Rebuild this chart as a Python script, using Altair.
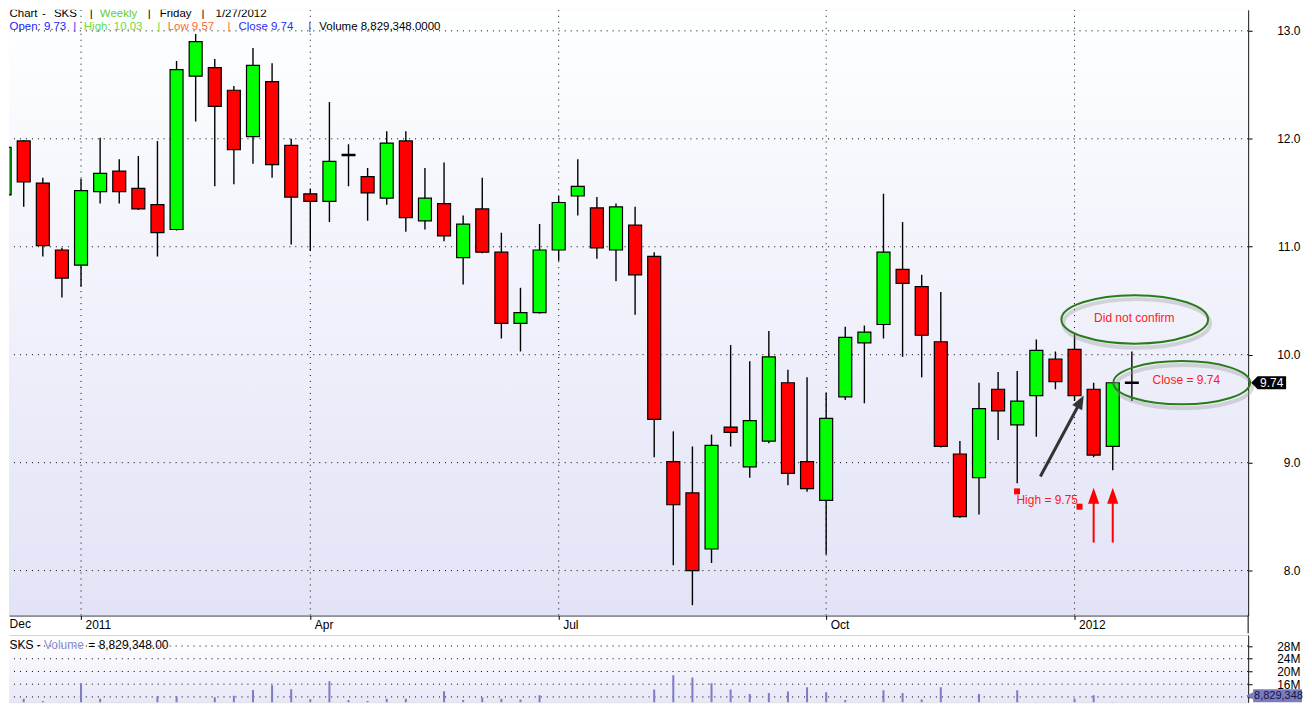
import altair as alt
import pandas as pd

# ------------------------------------------------------------------ data
dates = pd.date_range("2010-12-10", periods=60, freq="7D")   # weekly bars (Fridays)

open_ = [11.48, 11.98, 11.59, 10.97, 10.83, 11.51, 11.70, 11.54, 11.39, 11.16,
         12.58, 12.66, 12.45, 12.02, 12.53, 11.94, 11.49, 11.42, 11.85, 11.65,
         11.45, 11.98, 11.24, 11.40, 10.90, 11.35, 10.95, 10.29, 10.39, 10.97,
         11.47, 11.36, 10.97, 11.20, 10.91, 9.01, 8.72, 8.20, 9.33, 8.96,
         9.20, 9.74, 9.01, 8.65, 9.61, 10.11, 10.28, 10.79, 10.63, 10.12,
         9.08, 8.86, 9.68, 9.35, 9.62, 9.96, 10.05, 9.68, 9.15, 9.73]
high = [11.96, 11.99, 11.64, 10.99, 11.63, 12.01, 11.81, 11.84, 11.98, 12.72,
        12.97, 12.74, 12.49, 12.84, 12.70, 12.00, 11.54, 12.34, 11.95, 11.73,
        12.07, 12.07, 11.73, 11.78, 11.29, 11.64, 11.13, 10.62, 11.21, 11.47,
        11.81, 11.46, 11.40, 11.37, 10.95, 9.29, 9.15, 9.26, 10.09, 9.94,
        10.22, 9.86, 9.79, 9.65, 10.26, 10.27, 11.49, 11.23, 10.74, 10.58,
        9.20, 9.74, 9.84, 9.85, 10.14, 10.03, 10.19, 9.74, 9.74, 10.03]
low = [11.36, 11.37, 10.91, 10.53, 10.63, 11.40, 11.40, 11.34, 10.91, 11.15,
       12.16, 11.56, 11.58, 11.77, 11.64, 11.02, 10.96, 11.23, 11.56, 11.24,
       11.39, 11.14, 11.16, 11.05, 10.65, 10.94, 10.15, 10.03, 10.38, 10.87,
       11.29, 10.89, 10.68, 10.37, 9.05, 8.05, 7.68, 8.07, 9.15, 8.86,
       9.18, 8.79, 8.73, 8.15, 9.58, 9.55, 10.15, 9.98, 9.79, 9.14,
       8.49, 8.52, 9.21, 8.81, 9.24, 9.68, 9.57, 9.05, 8.93, 9.57]
close = [11.92, 11.60, 11.01, 10.71, 11.52, 11.68, 11.51, 11.35, 11.13, 12.64,
         12.90, 12.30, 11.90, 12.68, 11.76, 11.46, 11.42, 11.79, 11.85, 11.50,
         11.96, 11.27, 11.45, 11.10, 11.21, 10.95, 10.29, 10.39, 10.97, 11.41,
         11.56, 10.99, 11.37, 10.74, 9.40, 8.61, 8.00, 9.16, 9.28, 9.39,
         9.98, 8.90, 8.76, 9.41, 10.16, 10.21, 10.95, 10.66, 10.18, 9.15,
         8.50, 9.50, 9.48, 9.57, 10.04, 9.75, 9.62, 9.07, 9.74, 9.74]
volume_m = [10.7, 11.4, 10.7, 9.7, 16.3, 11.4, 10.4, 9.8, 12.2, 12.2,
            10.1, 11.9, 12.4, 14.2, 15.7, 14.4, 11.3, 16.9, 11.0, 10.7,
            11.4, 11.4, 9.8, 13.8, 11.0, 11.9, 11.4, 11.2, 12.5, 9.4,
            9.3, 9.8, 9.1, 9.7, 14.3, 18.8, 18.1, 16.3, 14.3, 12.9,
            13.2, 13.7, 15.0, 13.5, 11.0, 9.7, 14.1, 13.2, 11.2, 15.0,
            9.7, 12.9, 10.0, 14.1, 10.3, 8.2, 11.5, 12.5, 10.3, 8.829348]

price_ticks = [8.0, 9.0, 10.0, 11.0, 12.0, 13.0]
volume_ticks_m = [12, 16, 20, 24, 28]
date_tick_index = [0, 4, 16, 29, 43, 56]          # Dec, 2011, Apr, Jul, Oct, 2012

# annotations, positioned in data units (week offset from first bar, price)
ell_weeks, ell_prices = [59.15, 61.61], [10.327, 9.741]
ell_labels = ["Did not confirm", "Close = 9.74"]
ell_label_weeks, ell_label_prices = [59.13, 61.85], [10.336, 9.769]
black_arrow = {"w0": 54.21, "p0": 8.872, "w1": 56.16, "p1": 9.516, "hw": 56.31, "hp": 9.566}
red_arrow_bars = [57, 58]
red_arrow_from, red_arrow_to, red_head = 8.260, 8.648, 8.694
high_label = ("High = 9.75", 52.96, 8.657)
high_marks_w, high_marks_p = [52.99, 56.26], [8.734, 8.592]
last_close = 9.74
last_volume = "8,829,348"
badge_week = 66.16

FONT = "Liberation Sans, Arial, sans-serif"


def at_week(w):
    return dates[0] + pd.to_timedelta(7 * w, unit="D")


df = pd.DataFrame({"date": dates, "open": open_, "high": high, "low": low,
                   "close": close, "volume": [v * 1e6 for v in volume_m]})
df["dir"] = ["doji" if abs(c - o) < 0.015 else ("up" if c > o else "down")
             for o, c in zip(open_, close)]

# ------------------------------------------------------------------ scales
W, H_PRICE, H_VOL = 1242, 607, 67
x_scale = alt.Scale(domain=[alt.DateTime(year=2010, month=12, date=11, hours=14, minutes=36),
                            alt.DateTime(year=2012, month=3, date=9, hours=14, minutes=24)],
                    nice=False, padding=0)
tick_vals = [alt.DateTime(year=d.year, month=d.month, date=d.day) for d in dates[date_tick_index[1:]]]
x_axis = alt.Axis(values=tick_vals, title=None, grid=False, domainColor="#000", domainWidth=1,
                  tickColor="#000", tickSize=4, labelAlign="left", labelBaseline="alphabetic",
                  labelPadding=9, labelOffset=4, labelFont=FONT, labelFontSize=12, labelColor="#000",
                  labelExpr="month(datum.value) == 0 ? timeFormat(datum.value, '%Y') : timeFormat(datum.value, '%b')",
                  minExtent=18, maxExtent=18, labelOverlap=False, labelFlush=False)
y_scale = alt.Scale(domain=[7.585, 13.195], nice=False, zero=False, padding=0)
y_axis = alt.Axis(orient="right", values=price_ticks, format=".1f", title=None, grid=False,
                  domainColor="#000", tickColor="#000", tickSize=4, labelAlign="right",
                  labelBaseline="middle", labelPadding=48, labelFont=FONT, labelFontSize=12,
                  labelColor="#000", minExtent=10)


def X(field):
    return alt.X(field, type="temporal", scale=x_scale, axis=x_axis)


def Y(field):
    return alt.Y(field, type="quantitative", scale=y_scale, axis=y_axis)


one = pd.DataFrame({"a": [0]})
grad_price = alt.LinearGradient(gradient="linear", x1=0, x2=0, y1=0, y2=1,
                                stops=[alt.GradientStop(offset=0, color="#feffff"),
                                       alt.GradientStop(offset=1, color="#e2e3f6")])
bg = alt.Chart(one).mark_rect(color=grad_price).encode(
    x=alt.value(0), x2=alt.value(W), y=alt.value(0), y2=alt.value(H_PRICE))
# right border of the date band
band_edge = alt.Chart(one).mark_rule(color="#000", strokeWidth=1).encode(
    x=alt.value(W), y=alt.value(H_PRICE), y2=alt.value(H_PRICE + 18))

hgrid = alt.Chart(pd.DataFrame({"p": price_ticks})).mark_rule(
    color="#000", strokeWidth=1, strokeDash=[1, 5], clip=True).encode(y=Y("p"))
vgrid = alt.Chart(pd.DataFrame({"d": dates[date_tick_index]})).mark_rule(
    color="#000", strokeWidth=1, strokeDash=[1, 5], clip=True).encode(x=X("d"))
# first month label ("Dec") sits on a bar that is partly outside the frame
dec_lbl = alt.Chart(pd.DataFrame({"d": dates[date_tick_index[:1]]})).mark_text(
    font=FONT, fontSize=12, color="#000", align="left", baseline="alphabetic", dx=5).encode(
    x=X("d"), y=alt.value(H_PRICE + 13), text=alt.Text("d:T", timeUnit="month", format="%b"))

base = alt.Chart(df)
wick = base.mark_rule(color="#000", strokeWidth=1.4, clip=True).encode(x=X("date"), y=Y("low"), y2="high")
body = base.transform_filter("datum.dir != 'doji'").mark_bar(
    size=13, stroke="#000", strokeWidth=1.2, clip=True).encode(
    x=X("date"), y=Y("open"), y2="close",
    color=alt.Color("dir:N", scale=alt.Scale(domain=["up", "down"], range=["#00ff00", "#ff0000"]),
                    legend=None))
doji = base.transform_filter("datum.dir == 'doji'").mark_rule(
    color="#000", strokeWidth=2.5, xOffset=-7, x2Offset=7, clip=True).encode(
    x=X("date"), x2="date", y=Y("close"))


def ellipse_path(ratio):
    k = 0.5523
    r = ratio
    return (f"M -1 0 C -1 {-k*r:.4f} {-k:.4f} {-r:.4f} 0 {-r:.4f} "
            f"C {k:.4f} {-r:.4f} 1 {-k*r:.4f} 1 0 "
            f"C 1 {k*r:.4f} {k:.4f} {r:.4f} 0 {r:.4f} "
            f"C {-k:.4f} {r:.4f} -1 {k*r:.4f} -1 0 Z")


ann_layers = []
ell_sizes = [(147, 0.331), (137, 0.316)]
for i, (wpx, ratio) in enumerate(ell_sizes):
    d = pd.DataFrame({"d": [at_week(ell_weeks[i])], "p": [ell_prices[i]]})
    shp = ellipse_path(ratio)
    ann_layers.append(alt.Chart(d).mark_point(shape=shp, size=wpx * wpx, filled=False, stroke="#999999",
                                              strokeWidth=4, opacity=0.35, xOffset=2, yOffset=4)
                      .encode(x=X("d"), y=Y("p")))
    ann_layers.append(alt.Chart(d).mark_point(shape=shp, size=wpx * wpx, filled=False, stroke="#2a7b1c",
                                              strokeWidth=2, opacity=1).encode(x=X("d"), y=Y("p")))
    dl = pd.DataFrame({"d": [at_week(ell_label_weeks[i])], "p": [ell_label_prices[i]], "t": [ell_labels[i]]})
    ann_layers.append(alt.Chart(dl).mark_text(font=FONT, fontSize=12, color="#ff1a1a", align="center",
                                              baseline="middle").encode(x=X("d"), y=Y("p"), text="t:N"))

# black arrow
ba = pd.DataFrame({"d0": [at_week(black_arrow["w0"])], "p0": [black_arrow["p0"]],
                   "d1": [at_week(black_arrow["w1"])], "p1": [black_arrow["p1"]],
                   "hd": [at_week(black_arrow["hw"])], "hp": [black_arrow["hp"]]})
ann_layers.append(alt.Chart(ba).mark_rule(color="#333333", strokeWidth=3).encode(
    x=X("d0"), y=Y("p0"), x2="d1", y2="p1"))
ann_layers.append(alt.Chart(ba).mark_point(shape="M 0 -1 L 0.8 1 L -0.8 1 Z", size=196, filled=True,
                                           color="#333333", opacity=1, angle=28).encode(x=X("hd"), y=Y("hp")))
# red arrows
ra = pd.DataFrame({"d": dates[red_arrow_bars], "p0": red_arrow_from, "p1": red_arrow_to, "hp": red_head})
ann_layers.append(alt.Chart(ra).mark_rule(color="#ff0000", strokeWidth=2).encode(x=X("d"), y=Y("p0"), y2="p1"))
ann_layers.append(alt.Chart(ra).mark_point(shape="M 0 -1 L 0.7 1 L -0.7 1 Z", size=256, filled=True,
                                           color="#ff0000", opacity=1).encode(x=X("d"), y=Y("hp")))
# "High = 9.75"
hl = pd.DataFrame({"d": [at_week(high_label[1])], "p": [high_label[2]], "t": [high_label[0]]})
ann_layers.append(alt.Chart(hl).mark_text(font=FONT, fontSize=12, color="#ff1a1a", align="left",
                                          baseline="middle").encode(x=X("d"), y=Y("p"), text="t:N"))
hm = pd.DataFrame({"d": [at_week(w) for w in high_marks_w], "p": high_marks_p})
ann_layers.append(alt.Chart(hm).mark_square(size=36, color="#ff0000", opacity=1).encode(x=X("d"), y=Y("p")))
# last price badge
bd = pd.DataFrame({"d": [at_week(badge_week)], "p": [last_close], "t": [f"{last_close:.2f}"]})
ann_layers.append(alt.Chart(bd).mark_point(shape="M -1 0 L -0.63 -0.37 L 1 -0.37 L 1 0.37 L -0.63 0.37 Z",
                                           size=1225, filled=True, color="#000", opacity=1)
                  .encode(x=X("d"), y=Y("p")))
ann_layers.append(alt.Chart(bd).mark_text(font=FONT, fontSize=12, color="#ffffff", align="center",
                                          baseline="middle", dx=3).encode(x=X("d"), y=Y("p"), text="t:N"))

# header texts (layout positions inside the frame)
header = [
    [("Chart", 0.5, "#000"), ("-", 33, "#000"), ("SKS", 45, "#000"), ("|", 81, "#000"),
     ("Weekly", 91, "#66cc33"), ("|", 139, "#000"), ("Friday", 151, "#000"), ("|", 193, "#000"),
     ("1/27/2012", 207, "#000")],
    [("Open: 9.73", 0.5, "#2020ff"), ("|", 64.5, "#4a2af0"), ("High: 10.03", 75, "#66dd44"),
     ("|", 148.5, "#66dd44"), ("Low 9.57", 159, "#ff6633"), ("|", 219, "#ff6633"),
     ("Close 9.74", 230, "#2a2aff"), ("|", 300, "#4a2af0"), ("Volume 8,829,348.0000", 311, "#000")],
]
header_y = [4.5, 17]
txt_layers = []
for line, yy in zip(header, header_y):
    for t, xx, col in line:
        txt_layers.append(alt.Chart(one).mark_text(text=t, font=FONT, fontSize=11.5, color=col, align="left",
                                                   baseline="middle", clip=True)
                          .encode(x=alt.value(xx), y=alt.value(yy)))

price = alt.layer(bg, band_edge, hgrid, vgrid, wick, body, doji, dec_lbl, *ann_layers, *txt_layers).properties(
    width=W, height=H_PRICE)

# ------------------------------------------------------------------ volume panel
vx_axis = alt.Axis(orient="top", labels=False, ticks=False, grid=False, domainColor="#000", title=None,
                   minExtent=0, maxExtent=0)
vy_scale = alt.Scale(domain=[10.34e6, 31.35e6], nice=False, zero=False, padding=0)
vy_axis = alt.Axis(orient="right", values=[v * 1e6 for v in volume_ticks_m], title=None, grid=False,
                   domainColor="#000", tickColor="#000", tickSize=4, labelAlign="right",
                   labelBaseline="middle", labelPadding=48, labelFont=FONT, labelFontSize=12,
                   labelColor="#000", labelExpr="format(datum.value / 1000000, 'd') + 'M'", minExtent=10)


def VX(field):
    return alt.X(field, type="temporal", scale=x_scale, axis=vx_axis)


def VY(field):
    return alt.Y(field, type="quantitative", scale=vy_scale, axis=vy_axis)


grad_vol = alt.LinearGradient(gradient="linear", x1=0, x2=0, y1=0, y2=1,
                              stops=[alt.GradientStop(offset=0, color="#ffffff"),
                                     alt.GradientStop(offset=0.2, color="#fcfcff"),
                                     alt.GradientStop(offset=1, color="#e7e7f7")])
vbg = alt.Chart(one).mark_rect(color=grad_vol).encode(
    x=alt.value(0), x2=alt.value(W), y=alt.value(0), y2=alt.value(H_VOL))
vgrid_h = alt.Chart(pd.DataFrame({"v": [v * 1e6 for v in volume_ticks_m]})).mark_rule(
    color="#000", strokeWidth=1, strokeDash=[1, 5]).encode(y=VY("v"))
vbars = alt.Chart(df).mark_rule(color="#7b7bc6", strokeWidth=2, clip=True).encode(
    x=VX("date"), y=VY("volume"), y2=alt.datum(0))
vlabels = []
for t, xx, col in [("SKS - ", 0.5, "#000"), ("Volume", 35, "#8c8cd0"), ("= 8,829,348.00", 79.5, "#000")]:
    vlabels.append(alt.Chart(one).mark_text(text=t, font=FONT, fontSize=12, color=col, align="left",
                                            baseline="middle").encode(x=alt.value(xx), y=alt.value(9.7)))
vbadge = alt.Chart(one).mark_rect(color="#7b7bc0").encode(
    x=alt.value(W + 5), x2=alt.value(W + 54), y=alt.value(H_VOL - 13), y2=alt.value(H_VOL))
vbadge_tip = alt.Chart(one).mark_point(shape="M -1 0 L 1 -1 L 1 1 Z", size=49, filled=True,
                                       color="#7b7bc0", opacity=1).encode(
    x=alt.value(W + 1.5), y=alt.value(H_VOL - 6.5))
vbadge_t = alt.Chart(one).mark_text(text=last_volume, font=FONT, fontSize=11, color="#15153a",
                                    align="left", baseline="middle").encode(
    x=alt.value(W + 6), y=alt.value(H_VOL - 6.5))

volume = alt.layer(vbg, vgrid_h, vbars, *vlabels, vbadge, vbadge_tip, vbadge_t).properties(
    width=W, height=H_VOL)

chart = alt.vconcat(price, volume, spacing=0).properties(padding=0).configure_view(
    stroke=None).configure(background="#ffffff")

chart.save("out.html", embed_options={"renderer": "svg", "actions": False})
